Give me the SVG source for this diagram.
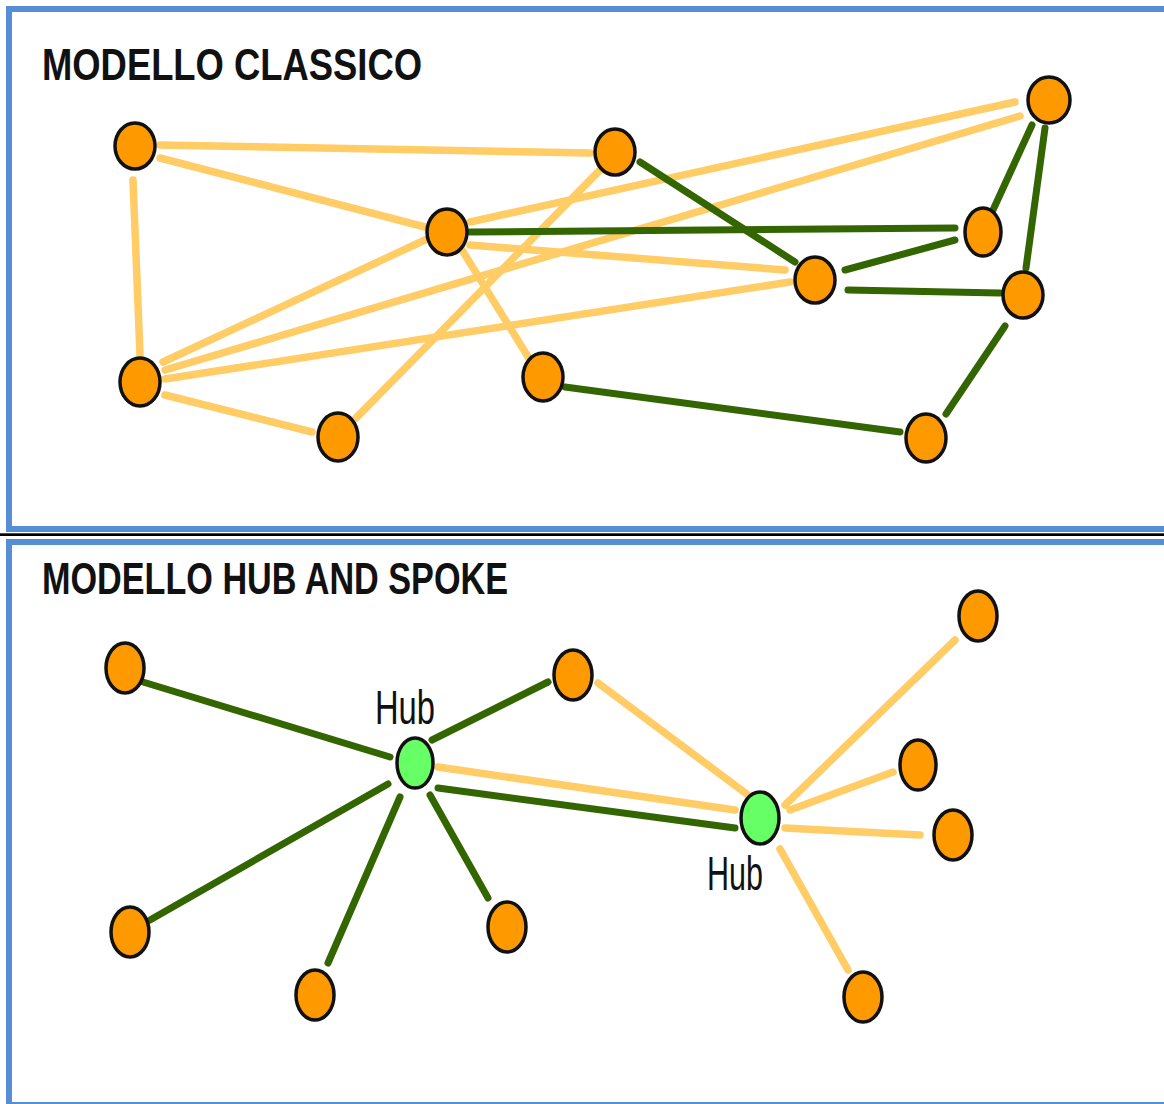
<svg xmlns="http://www.w3.org/2000/svg" width="1164" height="1104" viewBox="0 0 1164 1104">
<style>
.panel{fill:#fff;stroke:#558ED5;stroke-width:6}
.title{font-family:"Liberation Sans",Arial,sans-serif;font-weight:bold;font-size:44px;fill:#111}
.hub-label{font-family:"Liberation Sans",Arial,sans-serif;font-size:48px;fill:#111}
.node ellipse{fill:#FF9900;stroke:#111;stroke-width:3.5}
.hub ellipse{fill:#66FF66;stroke:#111;stroke-width:3.5}
.o{stroke:#FFCC66;stroke-width:7.5;stroke-linecap:round;fill:none}
.g{stroke:#336600;stroke-width:7;stroke-linecap:round;fill:none}
</style>
<rect x="0" y="0" width="1164" height="1104" fill="#fff"/>
<rect class="panel" x="9" y="9" width="1200" height="520"/>
<rect x="0" y="533.3" width="1164" height="2.7" fill="#000"/>
<rect class="panel" x="9" y="542" width="1200" height="563"/>

<text class="title" x="42" y="80" textLength="380" lengthAdjust="spacingAndGlyphs">MODELLO CLASSICO</text>
<text class="title" x="42" y="594" textLength="466" lengthAdjust="spacingAndGlyphs">MODELLO HUB AND SPOKE</text>

<g id="connectors">
  <!-- top panel -->
  <line class="o" x1="160" y1="145" x2="590" y2="153"/>
  <line class="o" x1="160" y1="158" x2="425" y2="227"/>
  <line class="o" x1="133" y1="180" x2="140" y2="355"/>
  <line class="o" x1="600" y1="170" x2="356" y2="418"/>
  <line class="o" x1="470" y1="222" x2="1015" y2="102"/>
  <line class="o" x1="1020" y1="116" x2="165" y2="370"/>
  <line class="o" x1="425" y1="240" x2="163" y2="362"/>
  <line class="o" x1="165" y1="379" x2="790" y2="282"/>
  <line class="o" x1="470" y1="245" x2="785" y2="270"/>
  <line class="o" x1="462" y1="250" x2="530" y2="360"/>
  <line class="o" x1="165" y1="395" x2="312" y2="432"/>
  <line class="g" x1="640" y1="162" x2="795" y2="262"/>
  <line class="g" x1="470" y1="232" x2="955" y2="228"/>
  <line class="g" x1="845" y1="270" x2="955" y2="240"/>
  <line class="g" x1="848" y1="290" x2="1000" y2="293"/>
  <line class="g" x1="1032" y1="125" x2="993" y2="210"/>
  <line class="g" x1="1045" y1="128" x2="1026" y2="268"/>
  <line class="g" x1="1005" y1="326" x2="946" y2="414"/>
  <line class="g" x1="565" y1="387" x2="900" y2="432"/>
  <!-- bottom panel -->
  <line class="g" x1="143" y1="682" x2="390" y2="757"/>
  <line class="g" x1="432" y1="740" x2="548" y2="682"/>
  <line class="g" x1="150" y1="920" x2="388" y2="784"/>
  <line class="g" x1="328" y1="963" x2="400" y2="797"/>
  <line class="g" x1="430" y1="795" x2="488" y2="898"/>
  <line class="g" x1="438" y1="788" x2="735" y2="828"/>
  <line class="o" x1="438" y1="767" x2="735" y2="810"/>
  <line class="o" x1="598" y1="683" x2="748" y2="795"/>
  <line class="o" x1="785" y1="805" x2="955" y2="640"/>
  <line class="o" x1="790" y1="810" x2="893" y2="772"/>
  <line class="o" x1="785" y1="828" x2="920" y2="835"/>
  <line class="o" x1="780" y1="849" x2="848" y2="970"/>
</g>

<!-- top panel nodes -->
<g id="nA" class="node"><ellipse cx="135" cy="146" rx="20" ry="23"/></g>
<g id="nB" class="node"><ellipse cx="615" cy="152" rx="20" ry="23"/></g>
<g id="nC" class="node"><ellipse cx="447" cy="232" rx="20" ry="23"/></g>
<g id="nD" class="node"><ellipse cx="1049" cy="100" rx="21" ry="23"/></g>
<g id="nE" class="node"><ellipse cx="983" cy="232" rx="18" ry="24"/></g>
<g id="nF" class="node"><ellipse cx="815" cy="280" rx="20" ry="23"/></g>
<g id="nG" class="node"><ellipse cx="1023" cy="295" rx="20" ry="23"/></g>
<g id="nH" class="node"><ellipse cx="140" cy="382" rx="20" ry="24"/></g>
<g id="nI" class="node"><ellipse cx="338" cy="437" rx="20" ry="24"/></g>
<g id="nJ" class="node"><ellipse cx="543" cy="377" rx="20" ry="24"/></g>
<g id="nK" class="node"><ellipse cx="926" cy="438" rx="20" ry="24"/></g>

<!-- bottom panel nodes -->
<g id="hub1" class="hub"><ellipse cx="415" cy="763" rx="18" ry="25"/><text class="hub-label" x="405" y="724" text-anchor="middle" textLength="60" lengthAdjust="spacingAndGlyphs">Hub</text></g>
<g id="hub2" class="hub"><ellipse cx="760" cy="818" rx="19" ry="26"/><text class="hub-label" x="735" y="890" text-anchor="middle" textLength="56" lengthAdjust="spacingAndGlyphs">Hub</text></g>
<g id="s1" class="node"><ellipse cx="125" cy="668" rx="19" ry="25"/></g>
<g id="s2" class="node"><ellipse cx="573" cy="675" rx="19" ry="25"/></g>
<g id="s3" class="node"><ellipse cx="130" cy="932" rx="19" ry="25"/></g>
<g id="s4" class="node"><ellipse cx="315" cy="995" rx="19" ry="25"/></g>
<g id="s5" class="node"><ellipse cx="507" cy="927" rx="19" ry="25"/></g>
<g id="s6" class="node"><ellipse cx="978" cy="616" rx="19" ry="25"/></g>
<g id="s7" class="node"><ellipse cx="918" cy="765" rx="18" ry="25"/></g>
<g id="s8" class="node"><ellipse cx="953" cy="835" rx="19" ry="25"/></g>
<g id="s9" class="node"><ellipse cx="863" cy="997" rx="19" ry="25"/></g>
</svg>
